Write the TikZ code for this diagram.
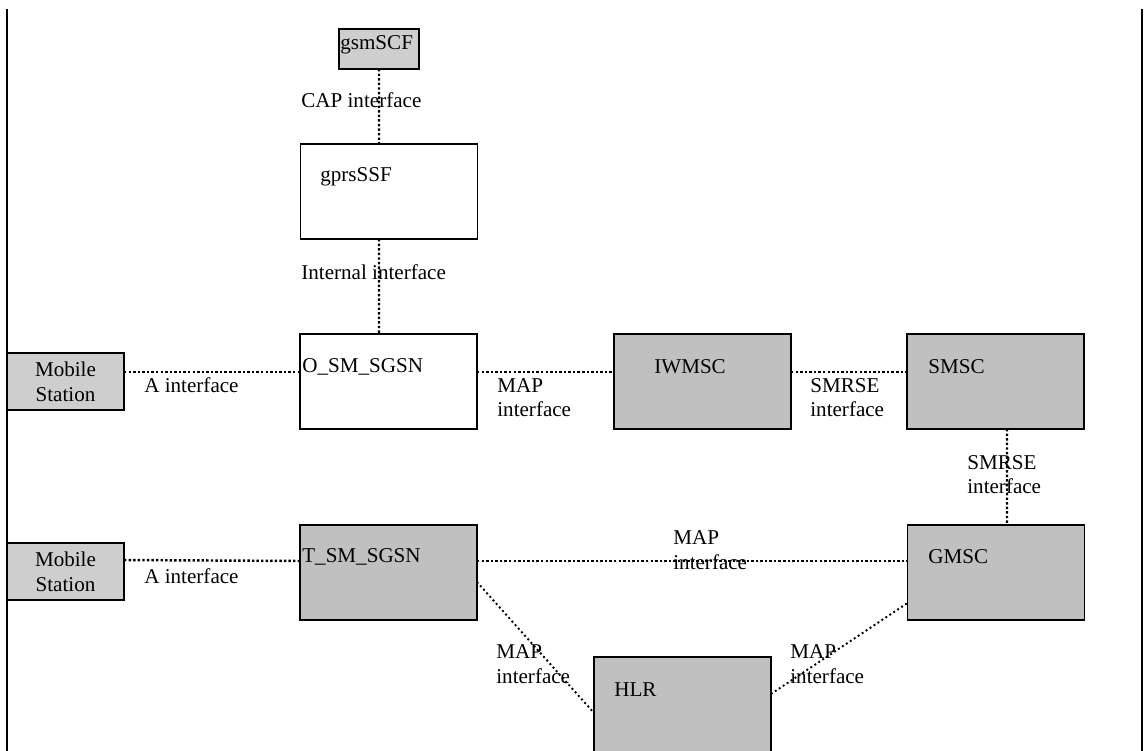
\documentclass[tikz,border=0pt]{standalone}
\usepackage{fontspec}
\setmainfont{Liberation Serif}
\definecolor{boxgray}{RGB}{192,192,192}
\definecolor{msgray}{RGB}{206,206,206}
\begin{document}
\begin{tikzpicture}[
    x=0.02cm, y=-0.02cm,
    font=\fontsize{12}{14}\selectfont,
    entity/.style={rectangle, draw, line width=1pt, inner sep=0pt, outer sep=0pt,
        minimum width=3.54cm, minimum height=1.9cm},
    grayentity/.style={entity, fill=boxgray},
    mobile/.style={rectangle, draw, line width=1pt, fill=msgray, inner sep=0pt, outer sep=0pt,
        minimum width=2.34cm, minimum height=1.14cm, align=center},
    boxtext/.style={anchor=west, inner sep=0pt},
    iflabel/.style={anchor=west, inner sep=0pt, align=left},
    iface/.style={line width=1.4pt, dash pattern=on 1.4pt off 1.2pt},
    diagiface/.style={line width=1.1pt, dash pattern=on 1.1pt off 1.6pt}
]
\useasboundingbox (0,0) rectangle (1144,751);
% page rules
\draw[line width=1.2pt] (7,9) -- (7,751);
\draw[line width=1.2pt] (1142,9) -- (1142,751);

% service functions
\node[entity, fill=msgray, minimum width=1.6cm, minimum height=0.8cm] (gsmscf) at (379,49) {};
\node[boxtext] (gsmscf-t) at (340,45) {gsmSCF};
\node[entity] (gprsssf) at (389,191.5) {};
\node[boxtext] (gprsssf-t) at (320,177) {gprsSSF};

% first row
\node[mobile] (ms1) at (65.5,381.5) {Mobile\\Station};
\node[entity] (osgsn) at (388.5,381.5) {};
\node[boxtext] (osgsn-t) at (302,367) {O\_SM\_SGSN};
\node[grayentity] (iwmsc) at (702.5,381.5) {};
\node[boxtext] (iwmsc-t) at (654,367) {IWMSC};
\node[grayentity] (smsc) at (995.5,381.5) {};
\node[boxtext] (smsc-t) at (928,367) {SMSC};

% second row
\node[mobile] (ms2) at (65.5,571.5) {Mobile\\Station};
\node[grayentity] (tsgsn) at (388.5,572.5) {};
\node[boxtext] (tsgsn-t) at (302,557) {T\_SM\_SGSN};
\node[grayentity] (gmsc) at (996,572.5) {};
\node[boxtext] (gmsc-t) at (928,557) {GMSC};
\node[grayentity] (hlr) at (682.5,704.5) {};
\node[boxtext] (hlr-t) at (614,690) {HLR};

% interfaces
\draw[iface] (gsmscf.south) -- ([xshift=-0.2cm]gprsssf.north);
\draw[iface] ([xshift=-0.2cm]gprsssf.south) -- ([xshift=-0.19cm]osgsn.north);
\draw[iface] ([yshift=0.19cm]ms1.east) -- ([yshift=0.19cm]osgsn.west);
\draw[iface] ([yshift=0.19cm]osgsn.east) -- ([yshift=0.19cm]iwmsc.west);
\draw[iface] ([yshift=0.19cm]iwmsc.east) -- ([yshift=0.19cm]smsc.west);
\draw[iface] ([xshift=0.23cm]smsc.south) -- ([xshift=0.22cm]gmsc.north);
\draw[iface] ([yshift=0.23cm]ms2.east) -- ([yshift=0.23cm]tsgsn.west);
\draw[iface] ([yshift=0.23cm]tsgsn.east) -- ([yshift=0.23cm]gmsc.west);
\draw[diagiface] ([yshift=-0.19cm]tsgsn.east) -- ([yshift=-0.17cm]hlr.west);
\draw[diagiface] ([yshift=0.21cm]hlr.east) -- ([yshift=-0.61cm]gmsc.west);

% interface labels
\node[iflabel] (cap) at (301,100) {CAP interface};
\node[iflabel] (internal) at (301,272) {Internal interface};
\node[iflabel] (a1) at (144,385) {A interface};
\node[iflabel] (a2) at (144,576) {A interface};
\node[iflabel] (map1) at (497,397.5) {MAP\\interface};
\node[iflabel] (smrse1) at (810,397.5) {SMRSE\\interface};
\node[iflabel] (smrse2) at (967,474.5) {SMRSE\\interface};
\node[iflabel] (map2) at (673,550) {MAP\\interface};
\node[iflabel] (map3) at (496,664) {MAP\\interface};
\node[iflabel] (map4) at (790,664) {MAP\\interface};
\end{tikzpicture}
\end{document}
